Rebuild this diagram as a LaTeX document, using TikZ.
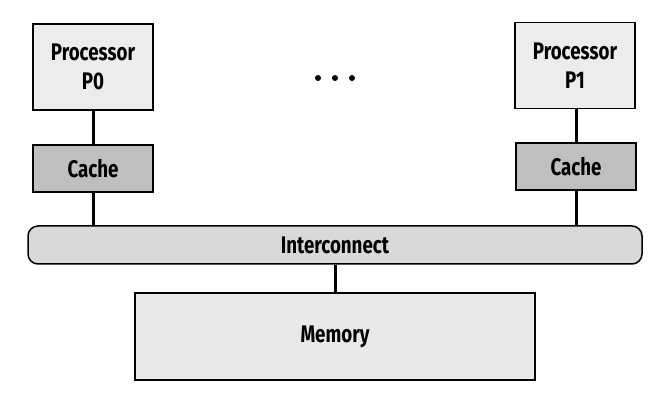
\documentclass[tikz,border=0pt]{standalone}
\usepackage{fontspec}
\setmainfont[FakeStretch=0.78]{Fira Sans}
\begin{document}
\begin{tikzpicture}[x=1pt,y=1pt,
    unit/.style={draw=black, line width=1.5pt, inner sep=0pt, align=center,
        font=\fontsize{24}{29}\selectfont\bfseries},
    proc/.style={unit, fill=gray!15, minimum width=120pt, minimum height=86pt},
    cachebox/.style={unit, fill=gray!50, minimum width=120pt, minimum height=47pt},
    wire/.style={line width=3pt}]
            \useasboundingbox (0,0) rectangle (657,401);

            \node[proc] (p0) at (93,334) {Processor\\P0};
            \node[proc] (p1) at (575,335.5) {Processor\\P1};
            \node[cachebox] (c0) at (93,232.5) {Cache};
            \node[cachebox] (c1) at (576,234.5) {Cache};
            \node[unit, fill=gray!30, rounded corners=10pt, minimum width=614pt, minimum height=38pt] (bus) at (335,156) {Interconnect};
            \node[unit, fill=gray!17, minimum width=400pt, minimum height=87pt] (mem) at (335,64.5) {Memory};

            \draw[wire] (p0) -- (c0);
            \draw[wire] (p1.south -| c1) -- (c1);
            \draw[wire] (c0) -- (c0 |- bus.north);
            \draw[wire] (c1) -- (c1 |- bus.north);
            \draw[wire] (bus) -- (mem);

            % the dots between the processors
            \foreach \x in {318,335,352}
                \fill (\x,323) circle (3pt);
        \end{tikzpicture}
\end{document}
